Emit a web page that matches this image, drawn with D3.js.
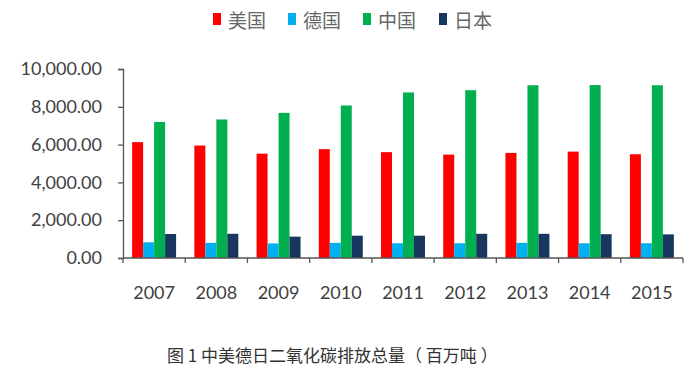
<!DOCTYPE html>
<html>
<head>
<meta charset="utf-8">
<script src="https://cdn.jsdelivr.net/npm/d3@7"></script>
<style>
  body { margin: 0; background: #fff; }
  svg { display: block; }
</style>
</head>
<body>
<script>
const w = 700
const h = 374

// data
const years = ["2007", "2008", "2009", "2010", "2011", "2012", "2013", "2014", "2015"]
const seriesNames = ["美国", "德国", "中国", "日本"]
const usa = [6130, 5950, 5520, 5760, 5600, 5470, 5560, 5630, 5490]
const germany = [830, 800, 770, 800, 780, 780, 800, 780, 780]
const china = [7200, 7330, 7680, 8070, 8760, 8880, 9140, 9150, 9140]
const japan = [1270, 1280, 1130, 1180, 1180, 1280, 1280, 1260, 1250]
const yTicks = [0, 2000, 4000, 6000, 8000, 10000]
const colors = ["#ff0000", "#00b0f0", "#00b050", "#17375e"]
const caption = "图 1 中美德日二氧化碳排放总量（ 百万吨 ）"

const values = [usa, germany, china, japan]

let margin = { top: 69, left: 123, bottom: 116, right: 17 }

const svg = d3.select("body")
    .append("svg")
    .attr("width", w)
    .attr("height", h)

const x = d3.scaleBand()
    .domain(years)
    .range([margin.left, w - margin.right])

const x1 = d3.scaleBand()
    .domain(seriesNames)
    .range([0, x.bandwidth()])
    .paddingOuter(0.83)

const y = d3.scaleLinear()
    .domain([0, 10000])
    .range([h - margin.bottom, margin.top])

// bars
seriesNames.forEach((name, s) => {
    svg.append("g")
        .selectAll("rect")
        .data(years)
        .enter()
        .append("rect")
        .attr("x", (d) => x(d) + x1(name))
        .attr("width", x1.bandwidth())
        .attr("y", (d, i) => y(values[s][i]))
        .attr("height", (d, i) => y(0) - y(values[s][i]))
        .attr("fill", colors[s])
})

// y axis
const yAxis = svg.append("g")
    .attr("transform", `translate(${margin.left},0)`)
    .call(d3.axisLeft(y).tickValues(yTicks).tickSize(5).tickPadding(16)
        .tickFormat(d3.format(",.2f")))
yAxis.selectAll("path, line").attr("stroke", "#555").attr("stroke-width", 1.3)
yAxis.selectAll("text")
    .attr("font-family", "Lato, 'Open Sans', sans-serif")
    .attr("font-size", "18px")
    .attr("fill", "#404040")

// x axis
const xAxis = svg.append("g")
    .attr("transform", `translate(0,${y(0)})`)
    .call(d3.axisBottom(x).tickSizeInner(0).tickSizeOuter(0).tickPadding(28))
xAxis.select("path").attr("d", `M${margin.left},0H${w - margin.right}`)
    .attr("stroke", "#555").attr("stroke-width", 1.3)
xAxis.selectAll("text")
    .attr("font-family", "Lato, 'Open Sans', sans-serif")
    .attr("font-size", "18px")
    .attr("fill", "#404040")

// small tick marks between categories
svg.append("g")
    .selectAll("line")
    .data(years.concat(["end"]))
    .enter()
    .append("line")
    .attr("x1", (d, i) => i < years.length ? x(d) : x.range()[1])
    .attr("x2", (d, i) => i < years.length ? x(d) : x.range()[1])
    .attr("y1", y(0))
    .attr("y2", y(0) + 5)
    .attr("stroke", "#555")
    .attr("stroke-width", 1.3)

// legend
const legendX = [213, 288, 363, 439]
const legend = svg.append("g")
seriesNames.forEach((name, s) => {
    legend.append("rect")
        .attr("x", legendX[s])
        .attr("y", 13)
        .attr("width", 8)
        .attr("height", 12)
        .attr("fill", colors[s])
    legend.append("text")
        .attr("x", legendX[s] + 15)
        .attr("y", 28)
        .attr("font-family", "'Noto Sans CJK SC', sans-serif")
        .attr("font-size", "19px")
        .attr("fill", "#666")
        .text(name)
})

// caption
svg.append("text")
    .attr("x", 167)
    .attr("y", 362)
    .attr("font-family", "'Noto Sans CJK SC', sans-serif")
    .attr("font-size", "17px")
    .attr("fill", "#333")
    .text(caption)
</script>
</body>
</html>
